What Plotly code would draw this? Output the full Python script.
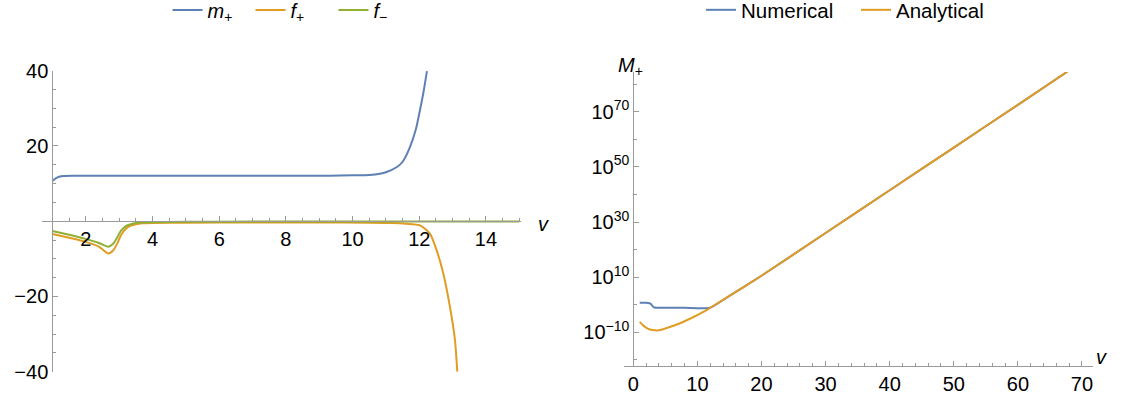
import plotly.graph_objects as go

# ---------------- left panel data ----------------
m_plus_v = [1.0, 1.1, 1.2, 1.35, 1.6, 2.0, 4.0, 6.0, 8.0, 9.3, 10.0, 10.5, 10.82, 11.0, 11.33, 11.5, 11.72, 11.9, 12.02, 12.12, 12.23]
m_plus_y = [10.7, 11.4, 11.8, 12.0, 12.05, 12.05, 12.05, 12.05, 12.05, 12.1, 12.2, 12.3, 12.6, 13.0, 14.4, 15.8, 19.7, 24.5, 29.5, 34.0, 39.9]

f_plus_v = [1.0, 1.5, 2.0, 2.4, 2.67, 2.82, 2.95, 3.05, 3.2, 3.35, 3.5, 3.7, 4.0, 5.0, 7.0, 9.0, 10.5, 11.2, 11.6, 12.02, 12.32, 12.52, 12.72, 12.92, 13.07, 13.14]
f_plus_y = [-3.4, -4.4, -5.5, -6.8, -8.6, -7.8, -5.8, -3.8, -2.0, -1.2, -0.8, -0.55, -0.45, -0.4, -0.35, -0.35, -0.4, -0.5, -0.7, -1.1, -3.3, -7.7, -13.9, -22.8, -31.6, -40.0]

f_minus_v = [1.0, 1.5, 2.0, 2.4, 2.67, 2.82, 2.95, 3.05, 3.2, 3.35, 3.5, 3.7, 4.0, 5.0, 7.0, 10.0, 13.0, 15.0]
f_minus_y = [-2.6, -3.6, -4.7, -5.8, -6.8, -6.0, -4.2, -2.6, -1.3, -0.8, -0.5, -0.35, -0.25, -0.15, -0.1, -0.08, -0.06, -0.05]

# ---------------- right panel data (log10 of M+) ----------------
numerical_v = [1.0, 2.0, 2.5, 2.8, 3.0, 3.3, 3.7, 4.0, 8.0, 12.0, 15.0, 20.0, 30.0, 40.0, 50.0, 60.0, 67.7]
numerical_log10 = [0.7, 0.7, 0.55, 0.2, -0.5, -1.0, -1.1, -1.1, -1.1, -1.1, 3.2, 10.5, 26.0, 41.5, 57.0, 72.5, 84.5]

analytical_v = [1.0, 1.5, 2.0, 2.5, 3.0, 3.5, 4.0, 5.0, 7.0, 9.0, 11.0, 12.0, 15.0, 20.0, 30.0, 40.0, 50.0, 60.0, 67.7]
analytical_log10 = [-6.2, -7.4, -8.3, -8.9, -9.2, -9.3, -9.25, -8.6, -7.0, -4.9, -2.5, -1.1, 3.2, 10.5, 26.0, 41.5, 57.0, 72.5, 84.5]

# tick labels
left_x_ticks = [2, 4, 6, 8, 10, 12, 14]
left_y_ticks = [-40, -20, 20, 40]
left_y_text = ["\u221240", "\u221220", "20", "40"]
right_x_ticks = [0, 10, 20, 30, 40, 50, 60, 70]
right_y_exps = [-10, 10, 30, 50, 70]
right_y_minor_exps = [-20, 0, 20, 40, 60, 80]

BLUE = "#5E81B5"
ORANGE = "#E19C24"
GREEN = "#8FB032"
AX = "#9a9a9a"
FONT = "Liberation Sans, Arial, sans-serif"

W, H = 1126, 396
def px(xp):
    return xp / W
def py(yp):
    return 1 - yp / H

fig = go.Figure()
fig.add_trace(go.Scatter(x=m_plus_v, y=m_plus_y, mode="lines", line=dict(color=BLUE, width=2, shape="spline", smoothing=0.6),
                         name="<i>m</i><sub>+</sub>", xaxis="x", yaxis="y", legend="legend"))
fig.add_trace(go.Scatter(x=f_plus_v, y=f_plus_y, mode="lines", line=dict(color=ORANGE, width=2, shape="spline", smoothing=0.6),
                         name="<i>f</i><sub>+</sub>", xaxis="x", yaxis="y", legend="legend"))
fig.add_trace(go.Scatter(x=f_minus_v, y=f_minus_y, mode="lines", line=dict(color=GREEN, width=2, shape="spline", smoothing=0.6),
                         name="<i>f</i><sub>\u2212</sub>", xaxis="x", yaxis="y", legend="legend"))

fig.add_trace(go.Scatter(x=numerical_v, y=[10 ** e for e in numerical_log10], mode="lines",
                         line=dict(color=BLUE, width=2, shape="spline", smoothing=0.5),
                         name="Numerical", xaxis="x2", yaxis="y2", legend="legend2"))
fig.add_trace(go.Scatter(x=analytical_v, y=[10 ** e for e in analytical_log10], mode="lines",
                         line=dict(color=ORANGE, width=2, shape="spline", smoothing=0.5),
                         name="Analytical", xaxis="x2", yaxis="y2", legend="legend2"))

common = dict(showgrid=False, zeroline=False, showline=True, linecolor=AX, linewidth=1,
              ticks="inside", tickcolor=AX, ticklen=5, tickwidth=1, automargin=False,
              tickfont=dict(family=FONT, size=20, color="black"))

RX0 = 633.3      # right y-axis pixel
RXB = 366.0      # right x-axis pixel
fig.update_layout(
    width=W, height=H,
    margin=dict(l=0, r=0, t=0, b=0, autoexpand=False),
    paper_bgcolor="white", plot_bgcolor="white",
    font=dict(family=FONT, size=20, color="black"),
    xaxis=dict(domain=[px(42), px(521)], range=[0.687, 15.05], anchor="free", position=py(221),
               tickmode="array", tickvals=left_x_ticks,
               minor=dict(dtick=0.5, tick0=0, ticks="inside", ticklen=3, tickcolor=AX), **common),
    yaxis=dict(domain=[py(371.7), py(70.7)], range=[-40, 40], anchor="free", position=px(52.3),
               tickmode="array", tickvals=left_y_ticks, ticktext=left_y_text,
               minor=dict(tickvals=[-35, -30, -25, -15, -10, -5, 5, 10, 15, 25, 30, 35], ticks="inside", ticklen=3, tickcolor=AX),
               **common),
    xaxis2=dict(domain=[px(624), px(1093)], range=[-1.45, 71.72], anchor="free", position=py(RXB),
                tickmode="array", tickvals=right_x_ticks,
                minor=dict(dtick=2, tick0=0, ticks="inside", ticklen=3, tickcolor=AX), **common),
    yaxis2=dict(domain=[py(RXB), py(72)], type="log", range=[-10 - (RXB - 332.3) / 2.757, 84.4], anchor="free", position=px(RX0),
                tickmode="array", tickvals=[10.0 ** e for e in right_y_exps],
                ticktext=["10<sup>%s</sup>" % (("\u2212%d" % -e) if e < 0 else str(e)) for e in right_y_exps],
                minor=dict(tickvals=[10.0 ** e for e in right_y_minor_exps], ticks="inside", ticklen=3, tickcolor=AX),
                **common),
    legend=dict(orientation="h", x=px(292), xanchor="center", y=py(10), yanchor="middle",
                font=dict(family=FONT, size=20, color="black"), itemwidth=30, bgcolor="rgba(0,0,0,0)",
                entrywidth=38, entrywidthmode="pixels"),
    legend2=dict(orientation="h", x=px(856), xanchor="center", y=py(10), yanchor="middle",
                 font=dict(family=FONT, size=20.5, color="black"), itemwidth=30, bgcolor="rgba(0,0,0,0)",
                 entrywidth=110, entrywidthmode="pixels"),
    showlegend=True,
)

fig.add_annotation(x=px(543), y=py(224), xref="paper", yref="paper", text="<i>v</i>", showarrow=False,
                   font=dict(family=FONT, size=20, color="black"))
fig.add_annotation(x=px(1109), y=py(RXB + 4), xref="paper", yref="paper", text="<i>v</i>", showarrow=False,
                   font=dict(family=FONT, size=20, color="black"))
fig.add_annotation(x=px(630), y=py(52), xref="paper", yref="paper", text="<i>M</i><sub>+</sub>", showarrow=False,
                   font=dict(family=FONT, size=20, color="black"))

fig.write_html("out.html", config={"displayModeBar": False},
               post_script="document.body.style.margin='0';document.body.style.overflow='hidden';")
